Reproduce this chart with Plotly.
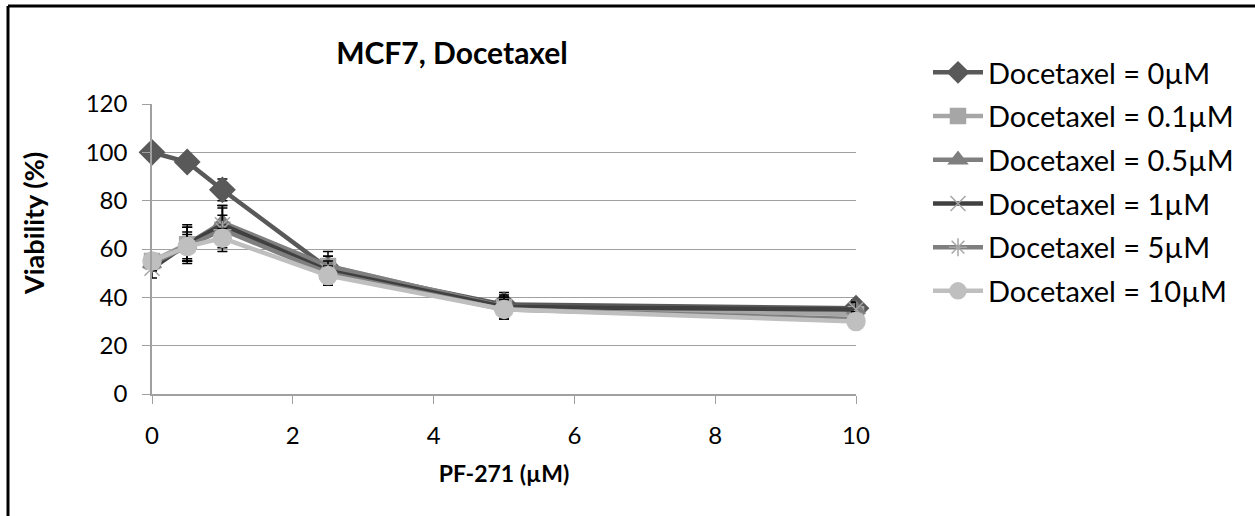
import plotly.graph_objects as go

x_vals = [0, 0.5, 1, 2.5, 5, 10]
series_names = ["Docetaxel = 0µM", "Docetaxel = 0.1µM", "Docetaxel = 0.5µM",
                "Docetaxel = 1µM", "Docetaxel = 5µM", "Docetaxel = 10µM"]
v_0 = [100, 96, 84.5, 52, 37, 35.5]
v_01 = [55, 62, 68, 53, 36, 33]
v_05 = [54, 62, 71, 53, 36, 35]
v_1 = [52, 62, 70, 51, 36, 35]
v_5 = [54, 61, 68, 50, 35, 31]
v_10 = [55, 61, 64.5, 49, 35, 30]
e_0 = [0, 2, 4.5, 7, 5, 3.5]
e_01 = [3, 7, 9, 4, 4, 3]
e_05 = [3, 8, 7, 4, 4, 3]
e_1 = [4, 7, 8, 4, 5, 3]
e_5 = [3, 6, 6, 3, 4, 3]
e_10 = [3, 5, 4, 3, 3, 2]
values = [v_0, v_01, v_05, v_1, v_5, v_10]
errors = [e_0, e_01, e_05, e_1, e_5, e_10]

line_colors = ["#595959", "#A6A6A6", "#7F7F7F", "#404040", "#7F7F7F", "#BFBFBF"]
marker_colors = ["#595959", "#A6A6A6", "#7F7F7F", "#A6A6A6", "#A6A6A6", "#BFBFBF"]
symbols = ["diamond", "square", "triangle-up", "x-thin-open", "asterisk-open", "circle"]
sizes = [19, 15, 16, 15, 15, 18]

fig = go.Figure()
for i in range(6):
    fig.add_trace(go.Scatter(
        x=x_vals, y=values[i], name=series_names[i], mode="lines+markers",
        legendgroup=str(i),
        line=dict(color=line_colors[i], width=4.5),
        marker=dict(symbol=symbols[i], size=sizes[i], color=marker_colors[i],
                    line=dict(color=marker_colors[i], width=1.5)),
        error_y=dict(type="data", array=errors[i], color="black", thickness=1.5, width=5),
        cliponaxis=False,
    ))

font_family = "Lato, Open Sans, sans-serif"
fig.update_layout(
    width=1255, height=516,
    margin=dict(l=152, r=399, t=104, b=122, autoexpand=False),
    paper_bgcolor="white", plot_bgcolor="white",
    title=dict(text="<b>MCF7, Docetaxel</b>", x=(452) / 1255, xanchor="center",
               y=1 - 53 / 516, yanchor="middle",
               font=dict(family=font_family, size=30, color="black")),
    xaxis=dict(range=[0, 10], tickvals=[0, 2, 4, 6, 8, 10], showgrid=False,
               showline=True, linecolor="#A0A0A0", linewidth=1.5,
               ticks="outside", ticklen=8, tickcolor="#A0A0A0",
               ticklabelstandoff=11,
               tickfont=dict(family=font_family, size=24, color="black"),
               title=dict(text="<b>PF-271 (µM)</b>", standoff=18,
                          font=dict(family=font_family, size=23, color="black")),
               zeroline=False),
    yaxis=dict(range=[0, 120], tickvals=[0, 20, 40, 60, 80, 100, 120], showgrid=True,
               gridcolor="#A0A0A0", gridwidth=1.2,
               showline=True, linecolor="#A0A0A0", linewidth=1.5,
               ticks="outside", ticklen=8, tickcolor="#A0A0A0",
               ticklabelstandoff=10,
               tickfont=dict(family=font_family, size=24, color="black"),
               zeroline=False),
    legend=dict(x=(928 - 152) / 704, xanchor="left",
                y=(394 - 47) / 290, yanchor="top", maxheight=500,
                font=dict(family=font_family, size=29, color="black"),
                tracegroupgap=3, itemwidth=50, bgcolor="rgba(0,0,0,0)"),
    showlegend=True,
)

fig.add_annotation(text="<b>Viability (%)</b>", textangle=-90, showarrow=False,
                   xref="paper", yref="paper",
                   x=(33 - 152) / 704, y=(394 - 224) / 290,
                   xanchor="center", yanchor="middle",
                   font=dict(family=font_family, size=27, color="black"))

fig.add_shape(type="line", xref="paper", yref="paper",
              x0=(8 - 152) / 704, x1=(1262 - 152) / 704,
              y0=(394 - 6) / 290, y1=(394 - 6) / 290,
              line=dict(color="black", width=3))
fig.add_shape(type="line", xref="paper", yref="paper",
              x0=(8 - 152) / 704, x1=(8 - 152) / 704,
              y0=(394 - 6) / 290, y1=(394 - 530) / 290,
              line=dict(color="black", width=3))

fig.write_html("out.html")
